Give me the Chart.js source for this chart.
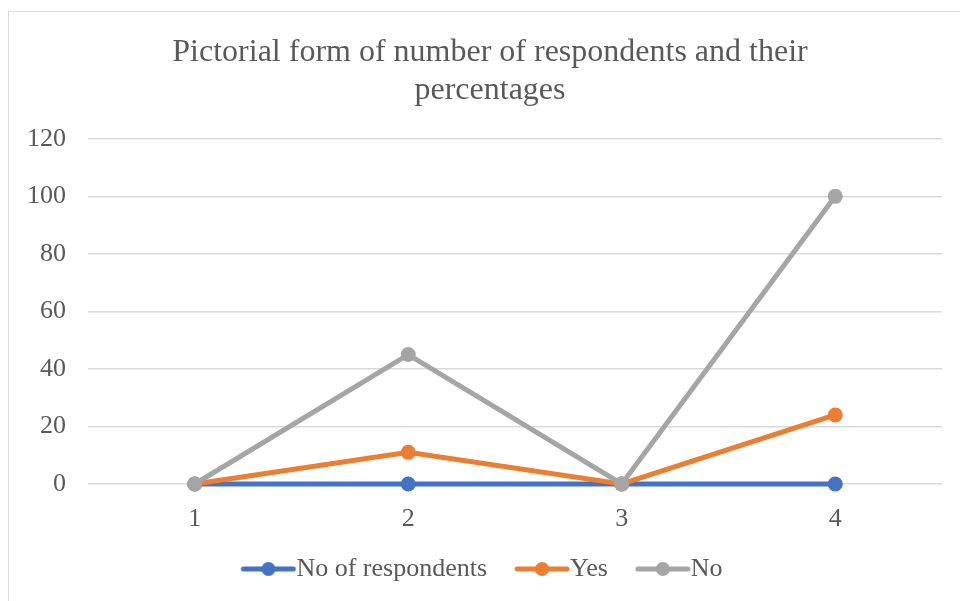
<!DOCTYPE html>
<html>
<head>
<meta charset="utf-8">
<script src="https://cdn.jsdelivr.net/npm/chart.js@4/dist/chart.umd.min.js"></script>
<style>
  html, body { margin: 0; padding: 0; background: #fff; }
  #wrap { position: relative; width: 960px; height: 601px; overflow: hidden; }
  #frame { position: absolute; left: 8px; top: 11px; width: 1000px; height: 700px; border: 1px solid #d9d9d9; }
  canvas { position: absolute; left: 0; top: 0; }
</style>
</head>
<body>
<div id="wrap">
  <div id="frame"></div>
  <canvas id="chart" width="960" height="601"></canvas>
</div>
<script>
const categories = ['1', '2', '3', '4'];
const respondents = [0, 0, 0, 0];
const yes = [0, 11, 0, 24];
const no = [0, 45, 0, 100];

const textColor = '#595959';
const serif = "'Liberation Serif', 'Times New Roman', serif";
Chart.defaults.font.family = serif;
Chart.defaults.color = textColor;

// legend marker: short line with a dot, drawn at the right of a wider image
// so it sits close to its text
function marker(color) {
    const c = document.createElement('canvas');
    c.width = 76; c.height = 16;
    const g = c.getContext('2d');
    g.strokeStyle = color;
    g.lineWidth = 5;
    g.lineCap = 'round';
    g.beginPath(); g.moveTo(23, 8); g.lineTo(73, 8); g.stroke();
    g.fillStyle = color;
    g.beginPath(); g.arc(48, 8, 7, 0, Math.PI * 2); g.fill();
    return c;
}

// order: lower number is drawn on top (gray over orange over blue, like Excel)
function series(label, data, color, order) {
    return {
        label: label,
        data: data,
        borderColor: color,
        backgroundColor: color,
        borderWidth: 5,
        pointRadius: 7.5,
        pointHoverRadius: 7.5,
        pointBorderWidth: 0,
        tension: 0,
        clip: false,
        order: order,
        pointStyle: 'circle',
        legendMarker: marker(color)
    };
}

// the frame is offset to the right, so centre title & legend on it
const recentre = {
    id: 'recentre',
    afterLayout(chart) {
        if (chart.titleBlock) chart.titleBlock.left += 18;
        if (chart.legend) chart.legend.left -= 6;
    }
};

const ctx = document.getElementById('chart').getContext('2d');
new Chart(ctx, {
    type: 'line',
    data: {
        labels: categories,
        datasets: [
            series('No of respondents', respondents, '#4472C4', 3),
            series('Yes', yes, '#ED7D31', 2),
            series('No', no, '#A5A5A5', 1)
        ]
    },
    plugins: [recentre],
    options: {
        responsive: false,
        animation: false,
        layout: { padding: { left: 20, right: 18, top: 0, bottom: 9 } },
        scales: {
            x: {
                offset: true,
                grid: { display: false, drawTicks: false },
                border: { display: false },
                ticks: { color: textColor, font: { family: serif, size: 26 }, padding: 20 },
                afterFit: (scale) => { scale.height = 52; }
            },
            y: {
                min: 0,
                max: 120,
                grid: { color: '#d9d9d9', lineWidth: 1.5, drawTicks: false },
                border: { display: false },
                ticks: { stepSize: 20, color: textColor, font: { family: serif, size: 26 }, padding: 22 },
                afterFit: (scale) => { scale.width = 68; }
            }
        },
        plugins: {
            title: {
                display: true,
                text: ['Pictorial form of number of respondents and their', 'percentages'],
                color: textColor,
                font: { family: serif, size: 32, weight: 'normal', lineHeight: 1.2 },
                padding: { top: 33, bottom: 29 }
            },
            legend: {
                position: 'bottom',
                labels: {
                    color: textColor,
                    font: { family: serif, size: 26 },
                    usePointStyle: true,
                    pointStyleWidth: 50,
                    padding: 20,
                    generateLabels: (chart) => chart.data.datasets.map((ds, i) => ({
                        text: ds.label,
                        pointStyle: ds.legendMarker,
                        fontColor: textColor,
                        lineWidth: 0,
                        datasetIndex: i
                    }))
                }
            },
            tooltip: { enabled: false }
        }
    }
});
</script>
</body>
</html>
